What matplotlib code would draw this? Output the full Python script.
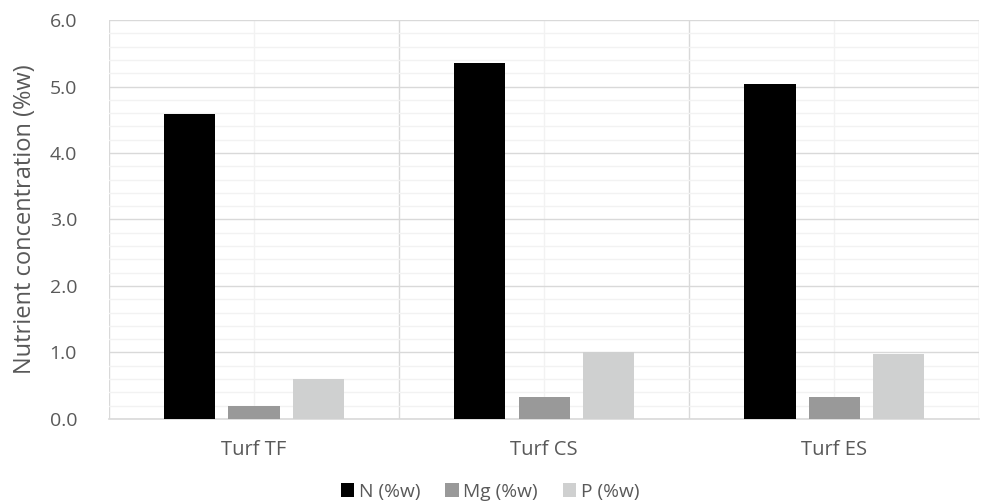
import numpy as np
import matplotlib
matplotlib.use("Agg")
import matplotlib.pyplot as plt
from matplotlib.ticker import MultipleLocator

# data
categories = ["Turf TF", "Turf CS", "Turf ES"]
series = ["N (%w)", "Mg (%w)", "P (%w)"]
n_vals = [4.58, 5.35, 5.04]
mg_vals = [0.20, 0.33, 0.33]
p_vals = [0.60, 1.00, 0.97]
colors = ["#000000", "#999999", "#cfd0d0"]

plt.rcParams["font.family"] = ["Open Sans", "DejaVu Sans"]
text_col = "#595959"

fig = plt.figure(figsize=(9.81, 5.04), dpi=100)
ax = fig.add_axes([0.1111, 0.1687, 0.887, 0.7916])

x = np.arange(len(categories))
width = 0.176
step = 0.221
for i, (vals, lab, col) in enumerate(zip([n_vals, mg_vals, p_vals], series, colors)):
    ax.bar(x + (i - 1) * step, vals, width, color=col, label=lab, zorder=3)

ax.set_xlim(-0.5, len(categories) - 0.5)
ax.set_ylim(0, 6)
ax.yaxis.set_minor_locator(MultipleLocator(0.2))
ax.set_yticks(np.arange(0, 6.01, 1))
ax.set_yticklabels([f"{v:.1f}" for v in np.arange(0, 6.01, 1)])
ax.set_xticks(x)
ax.set_xticklabels(categories)
ax.set_xticks(np.arange(-0.5, len(categories), 1), minor=True)

# gridlines excel style
ax.grid(axis="y", which="major", color="#d9d9d9", lw=1.0, zorder=1)
ax.grid(axis="y", which="minor", color="#f2f2f2", lw=1.0, zorder=0)
ax.grid(axis="x", which="major", color="#f2f2f2", lw=1.0, zorder=0)
ax.grid(axis="x", which="minor", color="#d9d9d9", lw=1.0, zorder=1)

for s in ["top", "right", "left"]:
    ax.spines[s].set_visible(False)
ax.spines["bottom"].set_color("#d9d9d9")
ax.spines["bottom"].set_linewidth(1.2)
ax.tick_params(which="both", length=0)
ax.tick_params(axis="y", labelsize=14, colors=text_col, pad=23)
ax.tick_params(axis="x", labelsize=14.5, colors=text_col, pad=15)

ax.set_ylabel("Nutrient concentration (%w)", fontsize=17, color=text_col, labelpad=9)

ax.legend(loc="upper center", bbox_to_anchor=(0.438, -0.117), ncol=3, frameon=False,
          fontsize=13.8, labelcolor=text_col, handlelength=0.7, handleheight=0.7,
          handletextpad=0.25, columnspacing=1.3)

fig.savefig("out.png", dpi=100)
